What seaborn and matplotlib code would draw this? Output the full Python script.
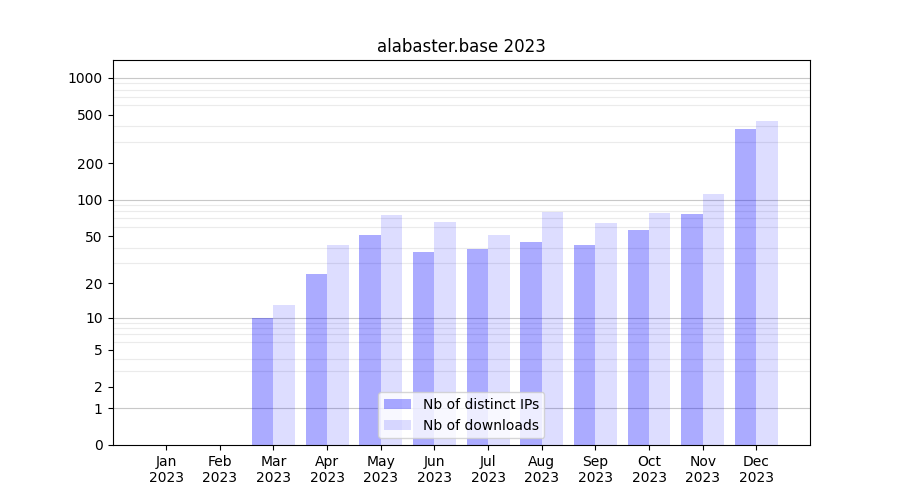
import numpy as np
import pandas as pd
import matplotlib
matplotlib.use("Agg")
import matplotlib.pyplot as plt
import seaborn as sns

months = ["Jan", "Feb", "Mar", "Apr", "May", "Jun", "Jul", "Aug", "Sep", "Oct", "Nov", "Dec"]
year = "2023"
ips = [0, 0, 10, 24, 51, 37, 39, 45, 42, 56, 76, 383]
downloads = [0, 0, 13, 42, 75, 66, 51, 79, 64, 78, 112, 445]
series_names = ["Nb of distinct IPs", "Nb of downloads"]
ytick_vals = [0, 1, 2, 5, 10, 20, 50, 100, 200, 500, 1000]

labels = [f"{m}\n{year}" for m in months]
df = pd.DataFrame({
    "month": labels * 2,
    "value": ips + downloads,
    "series": [series_names[0]] * len(months) + [series_names[1]] * len(months),
})

fig, ax = plt.subplots(figsize=(9, 5), dpi=100)

f = lambda x: np.log10(1 + np.clip(x, 0, None))
finv = lambda y: 10 ** y - 1
ax.set_yscale("function", functions=(f, finv))

sns.barplot(data=df, x="month", y="value", hue="series", palette=["blue", "blue"],
            ax=ax, width=0.8, saturation=1, legend=False)
alphas = [0.33, 0.135]
for cont, a in zip(ax.containers, alphas):
    for p in cont:
        p.set_alpha(a)
        p.set_edgecolor("none")
        p.set_linewidth(0)

# grid
minor = []
for k in range(3):
    for m in range(2, 10):
        minor.append(m * 10 ** k)
ax.set_yticks(ytick_vals)
ax.set_yticklabels([str(v) for v in ytick_vals])
ax.set_yticks(minor, minor=True)
ax.tick_params(axis="y", which="minor", length=0)
ax.grid(False)
ax.yaxis.grid(True, which="minor", color="#ebebeb", linewidth=0.8)
for v in [1, 10, 100, 1000]:
    ax.axhline(v, color="#c8c8c8", linewidth=0.8, zorder=0.5)
ax.set_axisbelow(True)

ax.set_ylim(0, 1400)
ax.set_xlim(-1, 12)
ax.set_xlabel("")
ax.set_ylabel("")
ax.set_title("alabaster.base 2023")

from matplotlib.patches import Patch
handles = [Patch(facecolor="blue", alpha=a, edgecolor="none") for a in alphas]
ax.legend(handles, series_names, loc="lower center")

fig.savefig("out.png", dpi=100)
